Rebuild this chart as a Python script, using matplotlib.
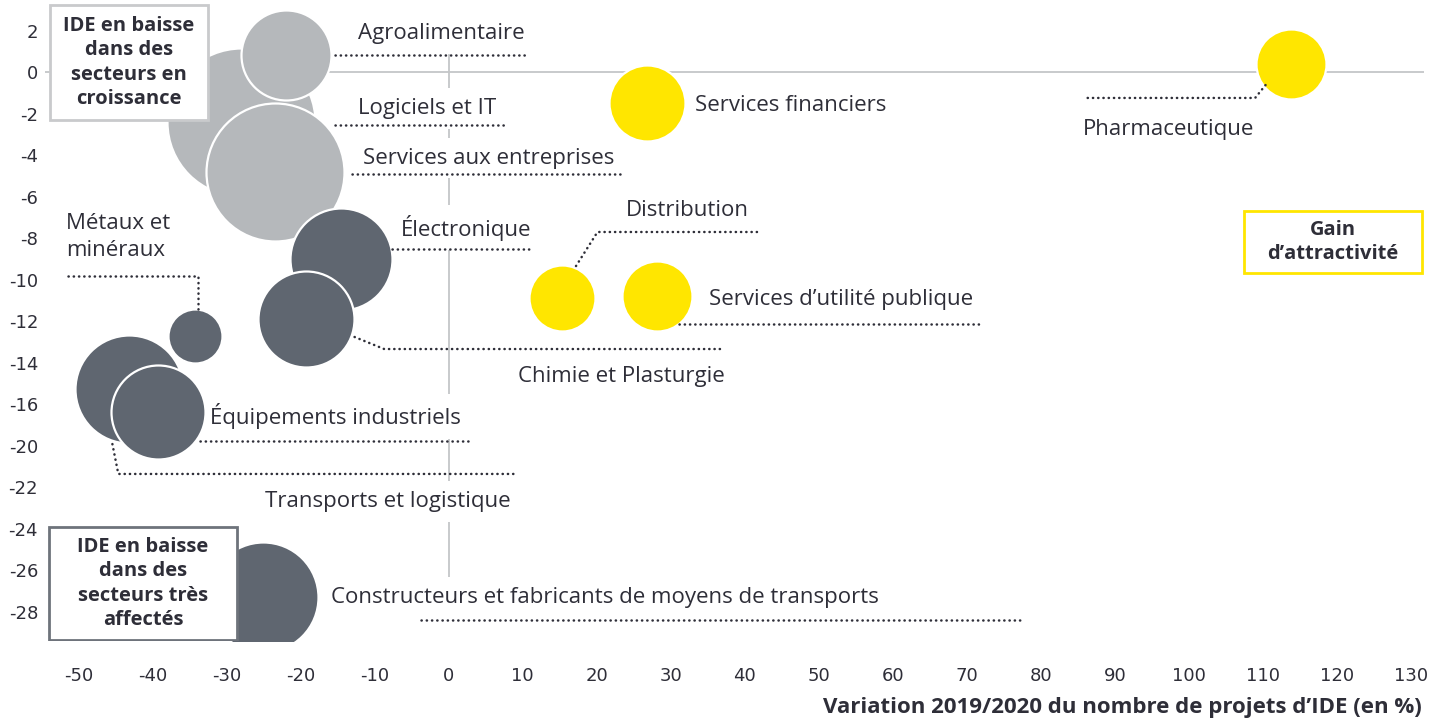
import numpy as np
import matplotlib
matplotlib.use("Agg")
import matplotlib.pyplot as plt
from matplotlib.patches import Rectangle

# --- data -------------------------------------------------------------
sectors = ["Logiciels et IT", "Agroalimentaire", "Services aux entreprises",
           "Électronique", "Chimie et Plasturgie", "Métaux et\nminéraux",
           "Transports et logistique", "Équipements industriels",
           "Constructeurs et fabricants de moyens de transports",
           "Services financiers", "Pharmaceutique", "Distribution",
           "Services d’utilité publique"]
var_projects = [-28.1, -21.9, -23.4, -14.6, -19.3, -34.3, -43.1, -39.3, -25.0,
                26.8, 113.8, 15.3, 28.1]
var_ide = [-2.4, 0.8, -4.8, -9.0, -11.9, -12.7, -15.3, -16.8, -27.3,
           -1.5, 0.4, -10.9, -10.8]
bubble_size = [74, 45, 69, 51, 48, 27, 54, 47, 55, 38, 35, 33, 35]
group = ["croissance", "croissance", "croissance", "affecte", "affecte", "affecte",
         "affecte", "affecte", "affecte", "gain", "gain", "gain", "gain"]

x_ticks = list(range(-50, 131, 10))
y_ticks = [2, 0, -2, -4, -6, -8, -10, -12, -14, -16, -20, -22, -24, -26, -28]

# --- style ------------------------------------------------------------
TXT = "#2e2e38"
colors = {"croissance": "#b5b8bb", "affecte": "#5f6670", "gain": "#ffe600"}
plt.rcParams['font.family'] = ['Open Sans', 'DejaVu Sans']

# label anchor (x, y) for each sector, left aligned, centred vertically
label_pos = [(-12.2, -1.75), (-12.2, 1.85), (-11.5, -4.15), (-6.5, -7.5),
             (9.3, -14.65), (-51.6, -7.95), (-24.8, -22.7), (-32.2, -17.2),
             (-15.9, -27.3), (33.3, -1.6), (85.6, -2.75), (23.9, -6.65),
             (35.1, -10.95)]
# dotted leader lines
leaders = [
    [(-15.3, 0.82), (10.9, 0.82)],
    [(-15.3, -2.55), (7.8, -2.55)],
    [(-13.0, -4.92), (23.6, -4.92)],
    [(-7.6, -8.53), (11.2, -8.53)],
    [(17.2, -9.35), (20.1, -7.71), (41.7, -7.71)],
    [(31.1, -12.14), (71.8, -12.14)],
    [(-12.7, -12.77), (-8.7, -13.35), (37.0, -13.35)],
    [(-51.4, -9.83), (-33.9, -9.83), (-33.9, -11.52)],
    [(-33.6, -19.56), (2.7, -19.56)],
    [(-45.4, -19.86), (-44.6, -21.37), (9.1, -21.37)],
    [(-3.7, -28.41), (77.5, -28.41)],
    [(110.3, -0.63), (108.9, -1.25), (86.0, -1.25)],
]


# the y axis skips -18: values between -16 and -20 are squeezed
def fwd(y):
    return np.interp(y, [-60, -20, -16, 20], [-58, -18, -16, 20])


def inv(p):
    return np.interp(p, [-58, -18, -16, 20], [-60, -20, -16, 20])


fig = plt.figure(figsize=(14.39, 7.22), dpi=100)
ax = fig.add_axes([45 / 1439, 1 - 641 / 722, 1379 / 1439, 641 / 722])
ax.set_yscale('function', functions=(fwd, inv))
ax.set_xlim(-54.5, 131.7)
ax.set_ylim(inv(-27.42), inv(3.47))

# reference lines
ax.axhline(0, color="#c4c6c8", lw=1.3, zorder=1)
ax.plot([0, 0], [0.8, inv(-24.8)], color="#c4c6c8", lw=1.3, zorder=1)

# bubbles
for i in range(len(sectors)):
    d = bubble_size[i] * 2 * 0.72
    ax.scatter(var_projects[i], var_ide[i], s=d ** 2, color=colors[group[i]],
               edgecolor="white", linewidth=1.6, zorder=3, clip_on=True)

# labels
for name, (lx, ly) in zip(sectors, label_pos):
    ax.text(lx, ly, name, fontsize=16, color=TXT, ha="left", va="center",
            linespacing=1.35, zorder=2,
            bbox=dict(facecolor="white", edgecolor="none", pad=7))

for pts in leaders:
    xs, ys = zip(*pts)
    ax.plot(xs, ys, color=TXT, lw=1.8, linestyle=(0, (0.1, 2.0)), zorder=4,
            dash_capstyle="round", solid_capstyle="round")

# corner boxes
boxes = [
    ((0.0036, 0.8128), 0.1146, 0.1792, "#c9cacc",
     "IDE en baisse\ndans des\nsecteurs en\ncroissance"),
    ((0.0029, 0.0015), 0.1363, 0.1765, "#6e737b",
     "IDE en baisse\ndans des\nsecteurs très\naffectés"),
    ((0.8695, 0.574), 0.1290, 0.0968, "#ffe600", "Gain\nd’attractivité"),
]
for (bx, by), bw, bh, ec, txt in boxes:
    ax.add_patch(Rectangle((bx, by), bw, bh, transform=ax.transAxes,
                           facecolor="white", edgecolor=ec, lw=2, zorder=5))
    ax.text(bx + bw / 2, by + bh / 2, txt, transform=ax.transAxes, ha="center",
            va="center", fontsize=14.5, fontweight="bold", color=TXT,
            linespacing=1.28, zorder=6)

# axes
ax.set_xticks(x_ticks)
ax.set_xticklabels([str(v) for v in x_ticks], family="DejaVu Sans")
ax.set_yticks(y_ticks)
ax.set_yticklabels([str(v) for v in y_ticks], family="DejaVu Sans")
ax.minorticks_off()
ax.tick_params(axis="both", length=0, labelsize=13, labelcolor=TXT)
ax.tick_params(axis="x", pad=19)
ax.tick_params(axis="y", pad=5)
for s in ax.spines.values():
    s.set_visible(False)

fig.text(1422 / 1439, 1 - 708 / 722,
         "Variation 2019/2020 du nombre de projets d’IDE (en %)",
         ha="right", va="center", fontsize=16, fontweight="bold", color=TXT)

fig.savefig("out.png", dpi=100)
